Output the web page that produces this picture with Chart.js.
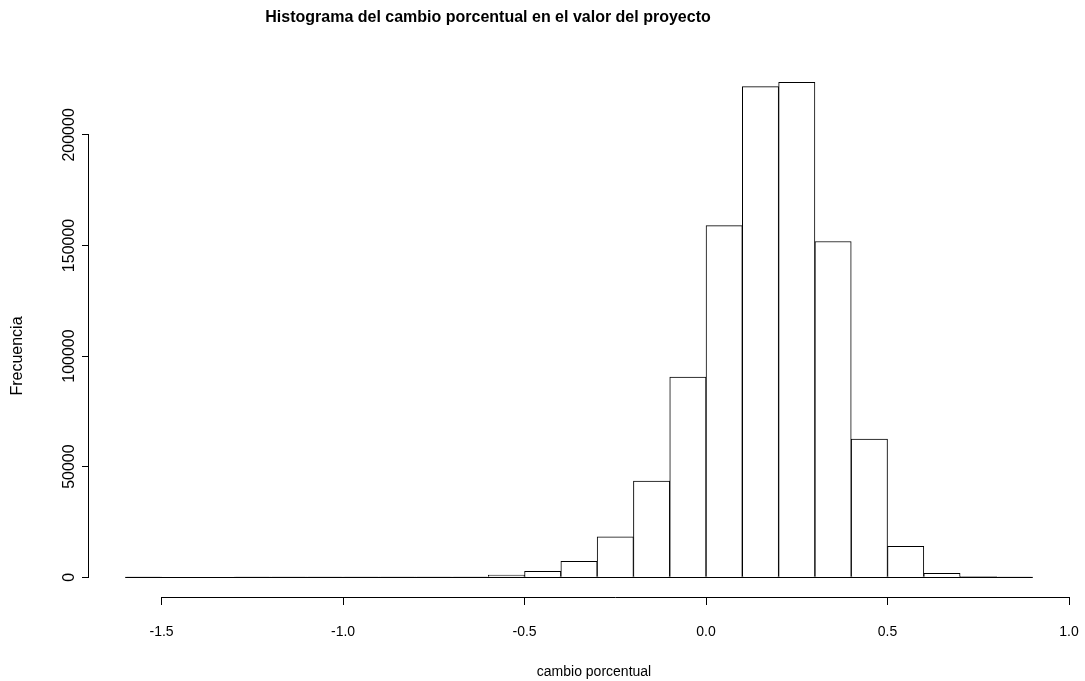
<!DOCTYPE html>
<html>
<head>
<meta charset="utf-8">
<title>Histograma</title>
<script src="https://cdn.jsdelivr.net/npm/chart.js@4.4.1/dist/chart.umd.min.js"></script>
<style>
  html, body { margin: 0; padding: 0; background: #fff; }
  #wrap { width: 1085px; height: 681px; }
</style>
</head>
<body>
<div id="wrap"><canvas id="hist" width="1085" height="681"></canvas></div>
<script>
// bins of width 0.1, from -1.6 to 0.9
const binEdges = [-1.6, 0.9];
const binMids = [-1.55, -1.45, -1.35, -1.25, -1.15, -1.05, -0.95, -0.85, -0.75, -0.65,
                 -0.55, -0.45, -0.35, -0.25, -0.15, -0.05, 0.05, 0.15, 0.25, 0.35,
                 0.45, 0.55, 0.65, 0.75, 0.85];
const counts = [1, 0, 0, 1, 2, 3, 6, 12, 30, 95,
                900, 2700, 7200, 18200, 43500, 90500, 159000, 221800, 223800, 151800,
                62500, 14000, 1700, 350, 20];

const xTicks = [-1.5, -1.0, -0.5, 0.0, 0.5, 1.0];
const yTicks = [0, 50000, 100000, 150000, 200000];

const mainTitle = 'Histograma del cambio porcentual en el valor del proyecto';
const xTitle = 'cambio porcentual';
const yTitle = 'Frecuencia';

Chart.defaults.font.family = "'Liberation Sans', Arial, Helvetica, sans-serif";
Chart.defaults.color = '#000';

// base-graphics look: axis lines only span the tick range, titles placed by hand
const baseAxes = {
  id: 'baseAxes',
  afterDraw(chart) {
    const { ctx, scales: { x, y } } = chart;
    ctx.save();
    ctx.strokeStyle = '#000';
    ctx.lineWidth = 1;
    ctx.beginPath();
    // bottom of the bars
    const yb = Math.round(y.getPixelForValue(0)) + 0.5;
    ctx.moveTo(x.getPixelForValue(binEdges[0]), yb);
    ctx.lineTo(x.getPixelForValue(binEdges[1]), yb);
    // x axis
    const xa = Math.round(x.top) + 0.5;
    ctx.moveTo(x.getPixelForValue(xTicks[0]), xa);
    ctx.lineTo(x.getPixelForValue(xTicks[xTicks.length - 1]) + 0.5, xa);
    // y axis
    const ya = Math.round(y.right) - 0.5;
    ctx.moveTo(ya, y.getPixelForValue(yTicks[0]) + 0.5);
    ctx.lineTo(ya, y.getPixelForValue(yTicks[yTicks.length - 1]));
    ctx.stroke();

    ctx.fillStyle = '#000';
    ctx.textAlign = 'center';
    ctx.textBaseline = 'middle';
    ctx.font = "bold 16px 'Liberation Sans', Arial, sans-serif";
    ctx.fillText(mainTitle, 488, 18);
    ctx.font = "14px 'Liberation Sans', Arial, sans-serif";
    ctx.fillText(xTitle, 594, 672);
    ctx.translate(18, 356);
    ctx.rotate(-Math.PI / 2);
    ctx.font = "16px 'Liberation Sans', Arial, sans-serif";
    ctx.fillText(yTitle, 0, 0);
    ctx.restore();
  }
};

new Chart(document.getElementById('hist'), {
  type: 'bar',
  data: {
    datasets: [{
      data: binMids.map((m, i) => ({ x: m, y: counts[i] })),
      backgroundColor: '#fff',
      borderColor: '#000',
      borderWidth: 1,
      barPercentage: 1,
      categoryPercentage: 1
    }]
  },
  options: {
    responsive: false,
    animation: false,
    devicePixelRatio: 1,
    layout: { padding: { top: 62, right: 16, left: 0, bottom: 0 } },
    plugins: {
      legend: { display: false },
      tooltip: { enabled: false },
      title: { display: false }
    },
    scales: {
      x: {
        type: 'linear',
        min: -1.7,
        max: 1.0,
        offset: false,
        afterBuildTicks: s => { s.ticks = xTicks.map(v => ({ value: v })); },
        afterFit: s => { s.height = 84; s.paddingLeft = 0; s.paddingRight = 0; },
        border: { display: false },
        grid: { offset: false, drawOnChartArea: false, drawTicks: true, tickLength: 8, color: '#000' },
        ticks: {
          font: { size: 14 },
          padding: 19,
          maxRotation: 0,
          autoSkip: false,
          callback: v => v.toFixed(1)
        }
      },
      y: {
        type: 'linear',
        min: -8960,
        max: 232960,
        afterBuildTicks: s => { s.ticks = yTicks.map(v => ({ value: v })); },
        afterFit: s => { s.width = 89; },
        border: { display: false },
        grid: { drawOnChartArea: false, drawTicks: true, tickLength: 7, color: '#000' },
        ticks: {
          font: { size: 16 },
          minRotation: 90,
          maxRotation: 90,
          crossAlign: 'center',
          padding: -14,
          autoSkip: false,
          callback: v => String(v)
        }
      }
    }
  },
  plugins: [baseAxes]
});
</script>
</body>
</html>
